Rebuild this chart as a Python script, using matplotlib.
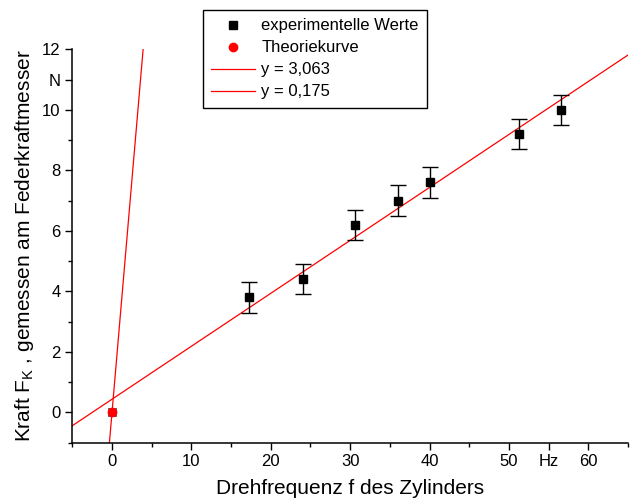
import numpy as np
import matplotlib
matplotlib.use("Agg")
import matplotlib.pyplot as plt
from matplotlib.ticker import FixedLocator
from matplotlib.lines import Line2D

plt.rcParams['font.family'] = ['Liberation Sans', 'DejaVu Sans']
plt.rcParams['mathtext.fontset'] = 'custom'
plt.rcParams['mathtext.rm'] = 'Liberation Sans'
plt.rcParams['mathtext.it'] = 'Liberation Sans'

freq = [17.2, 24.0, 30.6, 36.0, 40.0, 51.3, 56.5]
force = [3.8, 4.4, 6.2, 7.0, 7.6, 9.2, 10.0]
force_err = [0.5, 0.5, 0.5, 0.5, 0.5, 0.5, 0.5]

theory_x = [0.0]
theory_y = [0.0]

# fitted lines
slope_theory = 3.063
slope_exp = 0.175
icpt_exp = 0.435

x_ticks = [0, 10, 20, 30, 40, 50, 55, 60]
x_labels = ['0', '10', '20', '30', '40', '50', 'Hz', '60']
y_ticks = [0, 2, 4, 6, 8, 10, 11, 12]
y_labels = ['0', '2', '4', '6', '8', '10', 'N', '12']

fig = plt.figure(figsize=(6.3, 5.03), dpi=100)
ax = fig.add_axes([0.1148, 0.120, 0.882, 0.782])

xl = np.array([-5, 65])
ax.plot(xl, slope_theory * xl, color='red', lw=0.9, label='y = 3,063', zorder=2)
ax.plot(xl, icpt_exp + slope_exp * xl, color='red', lw=0.9, label='y = 0,175', zorder=2)

ax.errorbar(freq, force, yerr=force_err, fmt='s', color='black', ms=6,
            ecolor='black', elinewidth=1, capsize=5.5, capthick=1,
            label='experimentelle Werte', zorder=3)
ax.plot([0], [0], 's', color='red', mec='#555555', mew=0.6, ms=6, zorder=4)
ax.plot(theory_x, theory_y, 'o', color='red', ms=6, label='Theoriekurve', zorder=5)

ax.set_xlim(-5, 65)
ax.set_ylim(-1, 12)
ax.set_xticks(x_ticks)
ax.set_xticklabels(x_labels)
ax.set_yticks(y_ticks)
ax.set_yticklabels(y_labels)
ax.xaxis.set_minor_locator(FixedLocator([-5, 5, 15, 25, 35, 45, 65]))
ax.yaxis.set_minor_locator(FixedLocator([-1, 1, 3, 5, 7, 9]))
ax.tick_params(which='major', direction='out', length=5, width=1, labelsize=12)
ax.tick_params(which='minor', direction='out', length=2.8, width=1)

ax.spines['top'].set_visible(False)
ax.spines['right'].set_visible(False)
ax.spines['left'].set_linewidth(1.1)
ax.spines['bottom'].set_linewidth(1.1)

ax.set_xlabel('Drehfrequenz f des Zylinders', fontsize=15, labelpad=7)
ax.set_ylabel(r'Kraft F$_\mathrm{K}$ , gemessen am Federkraftmesser', fontsize=15, labelpad=4)

handles, labels = ax.get_legend_handles_labels()
order = [labels.index(n) for n in ['experimentelle Werte', 'Theoriekurve', 'y = 3,063', 'y = 0,175']]
h_exp = Line2D([], [], marker='s', color='black', ls='none', ms=6)
leg = fig.legend([h_exp, handles[order[1]], handles[order[2]], handles[order[3]]],
                 [labels[i] for i in order],
                 loc='upper left', bbox_to_anchor=(0.322, 0.980), fontsize=12,
                 frameon=True, fancybox=False, framealpha=1, edgecolor='black',
                 borderaxespad=0, borderpad=0.5, handlelength=2.6, handletextpad=0.4,
                 labelspacing=0.42)
leg.get_frame().set_linewidth(1.0)

fig.savefig('out.png', dpi=100)
